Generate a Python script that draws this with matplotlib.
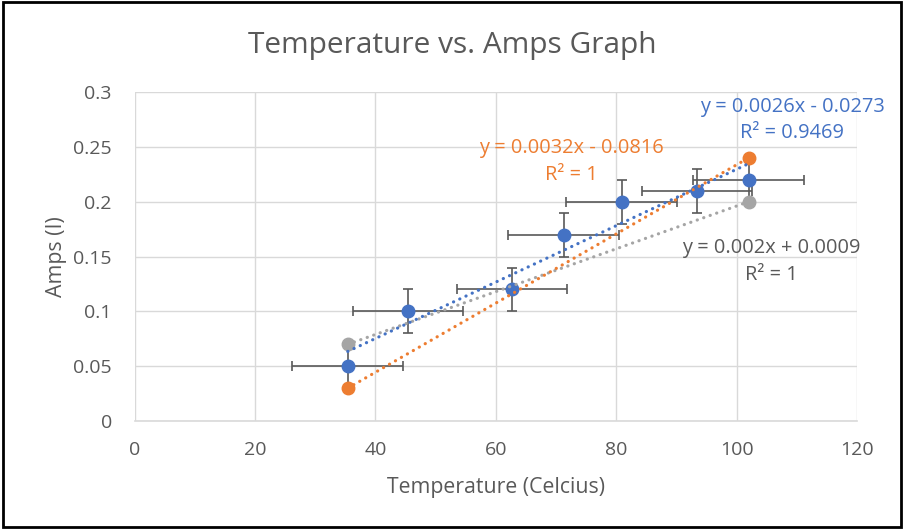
import numpy as np
import matplotlib
matplotlib.use('Agg')
import matplotlib.pyplot as plt
from matplotlib.patches import Rectangle

plt.rcParams['font.family'] = ['Open Sans', 'DejaVu Sans']

# measured data (blue series with error bars)
temp = [35.4, 45.4, 62.7, 71.3, 80.9, 93.4, 102.0]
amps = [0.05, 0.10, 0.12, 0.17, 0.20, 0.21, 0.22]
temp_err = 9.2
amps_err = 0.02

# two-point series
orange_x = [35.4, 102.0]
orange_y = [0.03, 0.24]
gray_x = [35.4, 102.0]
gray_y = [0.07, 0.20]

blue_eq = ['y = 0.0026x - 0.0273', 'R² = 0.9469']
orange_eq = ['y = 0.0032x - 0.0816', 'R² = 1']
gray_eq = ['y = 0.002x + 0.0009', 'R² = 1']

BLUE = '#4472C4'
ORANGE = '#ED7D31'
GRAY = '#A5A5A5'
TXT = '#595959'

fig = plt.figure(figsize=(9.04, 5.29), dpi=100)
ax = fig.add_axes([0.149, 0.204, 0.799, 0.622])


def trend(x, y, color):
    # linear trendline over the span of the series, Excel style
    k, b = np.polyfit(x, y, 1)
    xs = np.array([min(x), max(x)])
    ax.plot(xs, k * xs + b, linestyle=(0, (0.05, 2.1)), color=color,
            linewidth=2.3, dash_capstyle='round', zorder=4)


ax.errorbar(temp, amps, xerr=temp_err, yerr=amps_err, fmt='none',
            ecolor=TXT, elinewidth=1.2, capsize=3.5, capthick=1.2, zorder=2)
ax.plot(gray_x, gray_y, 'o', color=GRAY, markersize=9, zorder=3)
ax.plot(orange_x, orange_y, 'o', color=ORANGE, markersize=9, zorder=3)
ax.plot(temp, amps, 'o', color=BLUE, markersize=9, zorder=3)

trend(gray_x, gray_y, GRAY)
trend(orange_x, orange_y, ORANGE)
trend(temp, amps, BLUE)

eq_fs = 14.4
ax.text(109.2, 0.2863, blue_eq[0], color=BLUE, ha='center', va='center', fontsize=eq_fs)
ax.text(109.2, 0.2626, blue_eq[1], color=BLUE, ha='center', va='center', fontsize=eq_fs)
ax.text(72.6, 0.2489, orange_eq[0], color=ORANGE, ha='center', va='center', fontsize=eq_fs)
ax.text(72.6, 0.2243, orange_eq[1], color=ORANGE, ha='center', va='center', fontsize=eq_fs)
ax.text(105.7, 0.1577, gray_eq[0], color=TXT, ha='center', va='center', fontsize=eq_fs)
ax.text(105.7, 0.1331, gray_eq[1], color=TXT, ha='center', va='center', fontsize=eq_fs)

ax.set_xlim(0, 120)
ax.set_ylim(0, 0.3)
ax.set_xticks(range(0, 121, 20))
ax.set_yticks(np.arange(0, 0.31, 0.05))
ax.set_yticklabels(['0', '0.05', '0.1', '0.15', '0.2', '0.25', '0.3'])
ax.grid(True, color='#D9D9D9', linewidth=1)
ax.set_axisbelow(True)
for s in ['top', 'right', 'left']:
    ax.spines[s].set_visible(False)
ax.spines['bottom'].set_color('#D9D9D9')
ax.spines['bottom'].set_linewidth(1.2)
ax.tick_params(length=0, colors=TXT, labelsize=14)
ax.tick_params(axis='x', pad=14.5)
ax.tick_params(axis='y', pad=16.5)

ax.set_xlabel('Temperature (Celcius)', color=TXT, fontsize=15.3)
ax.set_ylabel('Amps (I)', color=TXT, fontsize=15.3)
ax.xaxis.set_label_coords(0.5, -0.170)
ax.yaxis.set_label_coords(-0.094, 0.5)

fig.text(0.5, 1 - 53 / 529, 'Temperature vs. Amps Graph', color=TXT,
         fontsize=21.5, ha='center', va='baseline')

fig.patches.append(Rectangle((3 / 904, 2 / 529), 898 / 904, 525 / 529,
                             transform=fig.transFigure, fill=False,
                             edgecolor='black', linewidth=2))

fig.savefig('out.png', dpi=100)
